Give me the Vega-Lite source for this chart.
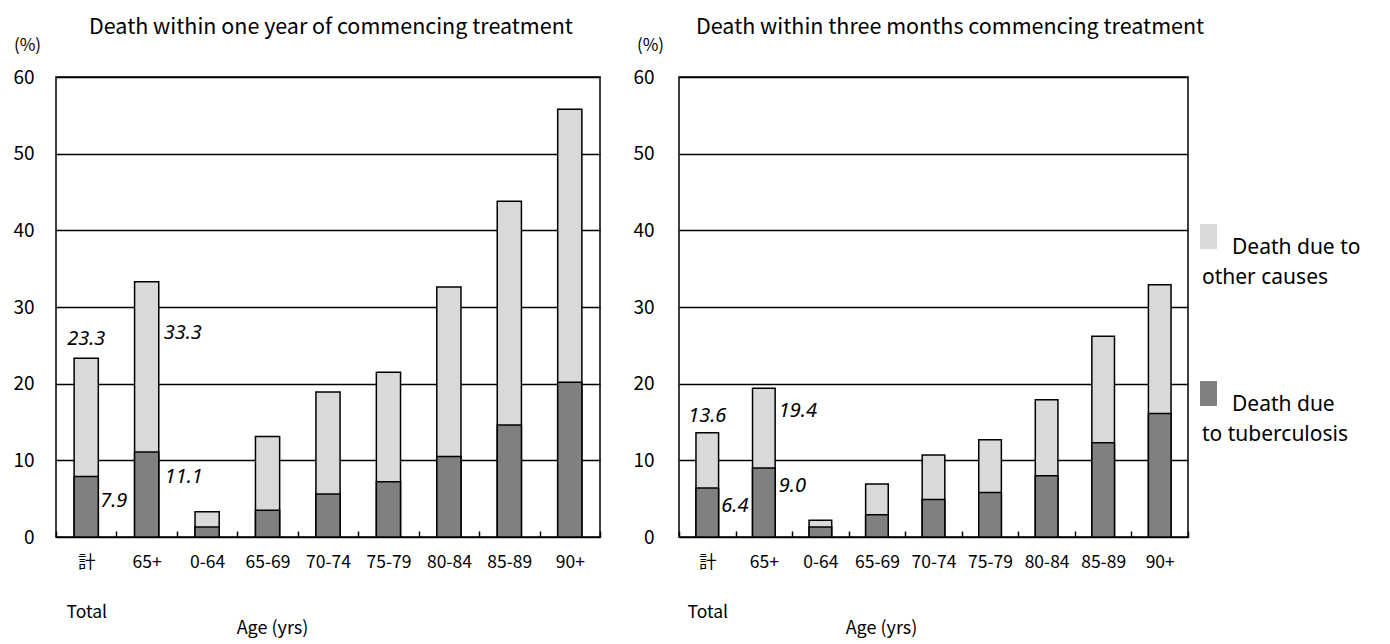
{
  "$schema": "https://vega.github.io/schema/vega-lite/v6.json",
  "padding": {"left": 12, "top": 15, "right": 0, "bottom": 0},
  "background": "white",
  "spacing": 30,
  "config": {
    "font": "Noto Sans CJK JP",
    "view": {"stroke": "black", "strokeWidth": 1.5},
    "axis": {"labelColor": "black", "titleColor": "black", "titleFontWeight": "normal", "labelFont": "Noto Sans CJK JP", "titleFont": "Noto Sans CJK JP"},
    "title": {"fontWeight": "normal", "color": "black", "fontSize": 21.5, "font": "Noto Sans CJK JP"},
    "style": {"guide-label": {"lineHeight": 30}}
  },
  "datasets": {
    "year": [
      {"age": "計", "total": 23.3, "tb": 7.9},
      {"age": "65+", "total": 33.3, "tb": 11.1},
      {"age": "0-64", "total": 3.3, "tb": 1.3},
      {"age": "65-69", "total": 13.1, "tb": 3.5},
      {"age": "70-74", "total": 18.9, "tb": 5.6},
      {"age": "75-79", "total": 21.5, "tb": 7.2},
      {"age": "80-84", "total": 32.6, "tb": 10.5},
      {"age": "85-89", "total": 43.8, "tb": 14.6},
      {"age": "90+", "total": 55.8, "tb": 20.2}
    ],
    "months": [
      {"age": "計", "total": 13.6, "tb": 6.4},
      {"age": "65+", "total": 19.4, "tb": 9.0},
      {"age": "0-64", "total": 2.2, "tb": 1.3},
      {"age": "65-69", "total": 6.9, "tb": 2.9},
      {"age": "70-74", "total": 10.7, "tb": 4.9},
      {"age": "75-79", "total": 12.7, "tb": 5.8},
      {"age": "80-84", "total": 17.9, "tb": 8.0},
      {"age": "85-89", "total": 26.2, "tb": 12.3},
      {"age": "90+", "total": 32.9, "tb": 16.1}
    ]
  },
  "hconcat": [
    {
      "width": 544,
      "height": 460,
      "data": {"name": "year"},
      "title": {"text": "Death within one year of commencing treatment", "anchor": "start", "frame": "group", "dx": 33, "offset": -2},
      "encoding": {
        "x": {
          "field": "age", "type": "nominal", "sort": null,
          "scale": {"paddingInner": 0, "paddingOuter": 0},
          "axis": {
            "labelAngle": 0, "domain": false, "ticks": true, "tickBand": "extent", "tickSize": -6, "tickColor": "black", "tickWidth": 1.5,
            "labelFontSize": 17.5, "labelPadding": 22, "labelLineHeight": 50,
            "labelExpr": "datum.value == '計' ? ['計', 'Total'] : datum.value",
            "title": "Age (yrs)", "titleFontSize": 18, "titleX": 216, "titleY": 91, "titleBaseline": "middle", "titleAlign": "center", "titleAnchor": null
          }
        }
      },
      "layer": [
        {
          "mark": {"type": "bar", "width": {"band": 0.4}, "stroke": "black", "strokeWidth": 1.5},
          "encoding": {
            "y": {
              "field": "total", "type": "quantitative", "scale": {"domain": [0, 60]},
              "axis": {
                "values": [0, 10, 20, 30, 40, 50, 60], "domain": false, "ticks": false, "grid": true, "gridColor": "black", "gridWidth": 1.3, "gridOpacity": 1,
                "labelFontSize": 19, "labelPadding": 22,
                "title": "(%)", "titleAngle": 0, "titleX": -29, "titleY": -32, "titleAlign": "center", "titleBaseline": "middle", "titleFontSize": 17
              }
            },
            "color": {
              "datum": "Death due to other causes",
              "type": "nominal",
              "scale": {"domain": ["Death due to other causes", "Death due to tuberculosis"], "range": ["#d9d9d9", "#808080"]},
              "legend": {
                "orient": "none", "legendX": 1140, "legendY": 147, "title": null, "padding": 0,
                "symbolType": "M-0.68,-1L0.68,-1L0.68,1L-0.68,1Z", "symbolSize": 625, "symbolStrokeWidth": 0, "symbolOpacity": 1,
                "labelFont": "Noto Sans", "labelFontSize": 21, "labelBaseline": "top", "labelLimit": 400, "labelColor": "black",
                "labelOffset": -19, "rowPadding": 93,
                "labelExpr": "datum.label == 'Death due to other causes' ? ['\u2800\u2800Death due to', 'other causes'] : ['\u2800\u2800Death due', 'to tuberculosis']",
                "encode": {
                  "labels": {"update": {"dy": {"value": -4}}},
                  "symbols": {"update": {"fill": {"signal": "datum.value == 'Death due to other causes' ? '#c0c0c0' : '#808080'"}}}
                }
              }
            }
          }
        },
        {
          "mark": {"type": "bar", "width": {"band": 0.4}, "stroke": "black", "strokeWidth": 1.5},
          "encoding": {
            "y": {"field": "tb", "type": "quantitative"},
            "color": {"datum": "Death due to tuberculosis", "type": "nominal"}
          }
        },
        {
          "transform": [{"filter": "datum.age == '計'"}],
          "mark": {"type": "text", "font": "Noto Sans", "fontStyle": "italic", "fontSize": 20, "color": "black", "baseline": "middle", "align": "center", "dy": -19},
          "encoding": {"y": {"field": "total", "type": "quantitative"}, "text": {"field": "total", "type": "quantitative", "format": ".1f"}}
        },
        {
          "transform": [{"filter": "datum.age == '計'"}],
          "mark": {"type": "text", "font": "Noto Sans", "fontStyle": "italic", "fontSize": 20, "color": "black", "baseline": "middle", "align": "left", "dx": 14, "dy": 25},
          "encoding": {"y": {"field": "tb", "type": "quantitative"}, "text": {"field": "tb", "type": "quantitative", "format": ".1f"}}
        },
        {
          "transform": [{"filter": "datum.age == '65+'"}],
          "mark": {"type": "text", "font": "Noto Sans", "fontStyle": "italic", "fontSize": 20, "color": "black", "baseline": "middle", "align": "left", "dx": 17, "dy": 51},
          "encoding": {"y": {"field": "total", "type": "quantitative"}, "text": {"field": "total", "type": "quantitative", "format": ".1f"}}
        },
        {
          "transform": [{"filter": "datum.age == '65+'"}],
          "mark": {"type": "text", "font": "Noto Sans", "fontStyle": "italic", "fontSize": 20, "color": "black", "baseline": "middle", "align": "left", "dx": 18, "dy": 25},
          "encoding": {"y": {"field": "tb", "type": "quantitative"}, "text": {"field": "tb", "type": "quantitative", "format": ".1f"}}
        }
      ]
    },
    {
      "width": 509,
      "height": 460,
      "data": {"name": "months"},
      "title": {"text": "Death within three months commencing treatment", "anchor": "start", "frame": "group", "dx": 17, "offset": -2},
      "encoding": {
        "x": {
          "field": "age", "type": "nominal", "sort": null,
          "scale": {"paddingInner": 0, "paddingOuter": 0},
          "axis": {
            "labelAngle": 0, "domain": false, "ticks": true, "tickBand": "extent", "tickSize": -6, "tickColor": "black", "tickWidth": 1.5,
            "labelFontSize": 17.5, "labelPadding": 22, "labelLineHeight": 50,
            "labelExpr": "datum.value == '計' ? ['計', 'Total'] : datum.value",
            "title": "Age (yrs)", "titleFontSize": 18, "titleX": 202, "titleY": 91, "titleBaseline": "middle", "titleAlign": "center", "titleAnchor": null
          }
        }
      },
      "layer": [
        {
          "mark": {"type": "bar", "width": {"band": 0.4}, "stroke": "black", "strokeWidth": 1.5},
          "encoding": {
            "y": {
              "field": "total", "type": "quantitative", "scale": {"domain": [0, 60]},
              "axis": {
                "values": [0, 10, 20, 30, 40, 50, 60], "domain": false, "ticks": false, "grid": true, "gridColor": "black", "gridWidth": 1.3, "gridOpacity": 1,
                "labelFontSize": 19, "labelPadding": 25,
                "title": "(%)", "titleAngle": 0, "titleX": -29, "titleY": -32, "titleAlign": "center", "titleBaseline": "middle", "titleFontSize": 17
              }
            },
            "color": {"datum": "Death due to other causes", "type": "nominal"}
          }
        },
        {
          "mark": {"type": "bar", "width": {"band": 0.4}, "stroke": "black", "strokeWidth": 1.5},
          "encoding": {
            "y": {"field": "tb", "type": "quantitative"},
            "color": {"datum": "Death due to tuberculosis", "type": "nominal"}
          }
        },
        {
          "transform": [{"filter": "datum.age == '計'"}],
          "mark": {"type": "text", "font": "Noto Sans", "fontStyle": "italic", "fontSize": 20, "color": "black", "baseline": "middle", "align": "center", "dy": -17},
          "encoding": {"y": {"field": "total", "type": "quantitative"}, "text": {"field": "total", "type": "quantitative", "format": ".1f"}}
        },
        {
          "transform": [{"filter": "datum.age == '計'"}],
          "mark": {"type": "text", "font": "Noto Sans", "fontStyle": "italic", "fontSize": 20, "color": "black", "baseline": "middle", "align": "left", "dx": 14, "dy": 18},
          "encoding": {"y": {"field": "tb", "type": "quantitative"}, "text": {"field": "tb", "type": "quantitative", "format": ".1f"}}
        },
        {
          "transform": [{"filter": "datum.age == '65+'"}],
          "mark": {"type": "text", "font": "Noto Sans", "fontStyle": "italic", "fontSize": 20, "color": "black", "baseline": "middle", "align": "left", "dx": 15, "dy": 23},
          "encoding": {"y": {"field": "total", "type": "quantitative"}, "text": {"field": "total", "type": "quantitative", "format": ".1f"}}
        },
        {
          "transform": [{"filter": "datum.age == '65+'"}],
          "mark": {"type": "text", "font": "Noto Sans", "fontStyle": "italic", "fontSize": 20, "color": "black", "baseline": "middle", "align": "left", "dx": 15, "dy": 18},
          "encoding": {"y": {"field": "tb", "type": "quantitative"}, "text": {"field": "tb", "type": "quantitative", "format": ".1f"}}
        }
      ]
    }
  ],
  "resolve": {"scale": {"color": "shared"}}
}
